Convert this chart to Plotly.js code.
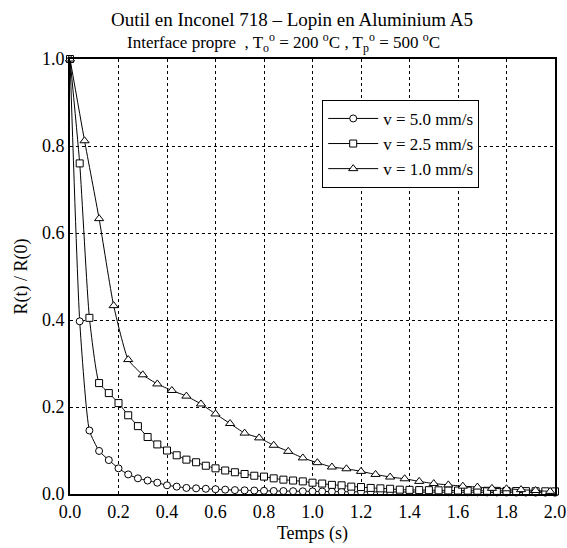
<!DOCTYPE html>
<html>
<head>
<meta charset="utf-8">
<script src="https://cdn.plot.ly/plotly-3.0.1.min.js"></script>
<style>html,body{margin:0;padding:0;background:#fff;}#chart{width:567px;height:548px;}</style>
</head>
<body>
<div id="chart"></div>
<script>
// v = 5.0 mm/s (circles), dt = 0.04 s
const t5 = [0,0.04,0.08,0.12,0.16,0.20,0.24,0.28,0.32,0.36,0.40,0.44,0.48,0.52,0.56,0.60,0.64,0.68,0.72,0.76,0.80,0.84,0.88,0.92,0.96,1.00,1.04,1.08,1.12,1.16,1.20,1.24,1.28,1.32,1.36,1.40,1.44,1.48,1.52,1.56,1.60,1.64,1.68,1.72,1.76,1.80,1.84,1.88,1.92,1.96,2.00];
const r5 = [1.0,0.397,0.146,0.099,0.078,0.059,0.045,0.036,0.031,0.026,0.020,0.017,0.014,0.013,0.012,0.011,0.010,0.009,0.0085,0.008,0.0075,0.007,0.0068,0.0065,0.0062,0.006,0.0058,0.0056,0.0054,0.0052,0.005,0.0049,0.0048,0.0047,0.0046,0.0045,0.0044,0.0043,0.0042,0.0041,0.004,0.0039,0.0038,0.0037,0.0036,0.0035,0.0034,0.0033,0.0032,0.0031,0.003];
// v = 2.5 mm/s (squares), dt = 0.04 s
const t25 = t5;
const r25 = [1.0,0.760,0.405,0.255,0.232,0.209,0.181,0.156,0.131,0.114,0.100,0.089,0.079,0.073,0.065,0.059,0.054,0.050,0.046,0.042,0.040,0.036,0.033,0.031,0.029,0.026,0.024,0.021,0.020,0.017,0.016,0.014,0.013,0.012,0.010,0.0095,0.009,0.0088,0.0085,0.0082,0.008,0.0078,0.0076,0.0074,0.0072,0.007,0.0068,0.0066,0.0064,0.0062,0.006];
// v = 1.0 mm/s (triangles), dt = 0.06 s
const t1 = [0,0.06,0.12,0.18,0.24,0.30,0.36,0.42,0.48,0.54,0.60,0.66,0.72,0.78,0.84,0.90,0.96,1.02,1.08,1.14,1.20,1.26,1.32,1.38,1.44,1.50,1.56,1.62,1.68,1.74,1.80,1.86,1.92,1.98];
const r1 = [1.0,0.812,0.633,0.433,0.309,0.274,0.253,0.238,0.225,0.207,0.184,0.162,0.140,0.129,0.112,0.098,0.083,0.072,0.062,0.058,0.052,0.045,0.039,0.035,0.029,0.024,0.021,0.018,0.016,0.013,0.012,0.010,0.008,0.006];

const names = ['v = 5.0 mm/s','v = 2.5 mm/s','v = 1.0 mm/s'];
const xTicks = [0,0.2,0.4,0.6,0.8,1.0,1.2,1.4,1.6,1.8,2.0];
const yTicks = [0,0.2,0.4,0.6,0.8,1.0];

const FONT = 'Times New Roman, Liberation Serif, Times, serif';
function tr(x,y,name,sym,size){
  return {x:x,y:y,name:name,type:'scatter',mode:'lines+markers',
    line:{color:'#000',width:1,shape:'spline',smoothing:0.5},
    marker:{symbol:sym,size:size,color:'#fff',line:{color:'#000',width:1}},cliponaxis:false};
}
const data = [
  tr(t5,r5,names[0],'circle',7),
  tr(t25,r25,names[1],'square',7),
  tr(t1,r1,names[2],'triangle-up',8)
];
const axBase = {showline:true,linecolor:'#000',linewidth:2,mirror:true,
  showgrid:true,gridcolor:'#000',griddash:'dot',gridwidth:1,zeroline:false,
  ticks:'',tickfont:{family:FONT,size:18,color:'#000'}};
const layout = {
  width:567,height:548,paper_bgcolor:'#fff',plot_bgcolor:'#fff',
  margin:{l:70,r:12,t:59,b:54},
  font:{family:FONT,color:'#000'},
  showlegend:true,
  legend:{x:0.52,y:0.906,xanchor:'left',yanchor:'top',bgcolor:'#fff',
    bordercolor:'#000',borderwidth:1,font:{family:FONT,size:17,color:'#000'},
    tracegroupgap:6,itemwidth:50},
  xaxis:Object.assign({},axBase,{range:[0,2.0],tickvals:xTicks,ticktext:xTicks.map(v=>v.toFixed(1)),
    title:{text:'Temps (s)',font:{family:FONT,size:18,color:'#000'},standoff:6}}),
  yaxis:Object.assign({},axBase,{range:[0,1.0],tickvals:yTicks,ticktext:yTicks.map(v=>v.toFixed(1)),
    title:{text:'R(t) / R(0)',font:{family:FONT,size:18,color:'#000'},standoff:10}}),
  annotations:[
    {xref:'paper',yref:'paper',x:0.458,y:1.062,xanchor:'center',yanchor:'bottom',showarrow:false,
     text:'Outil en Inconel 718 – Lopin en Aluminium A5',font:{family:FONT,size:19,color:'#000'}},
    {xref:'paper',yref:'paper',x:0.44,y:1.004,xanchor:'center',yanchor:'bottom',showarrow:false,
     text:'Interface propre  , T<sub>o</sub><sup>o</sup> = 200 <sup>o</sup>C , T<sub>p</sub><sup>o</sup> = 500 <sup>o</sup>C',
     font:{family:FONT,size:17,color:'#000'}}
  ]
};
Plotly.newPlot('chart',data,layout,{displayModeBar:false,staticPlot:true});
</script>
</body>
</html>
